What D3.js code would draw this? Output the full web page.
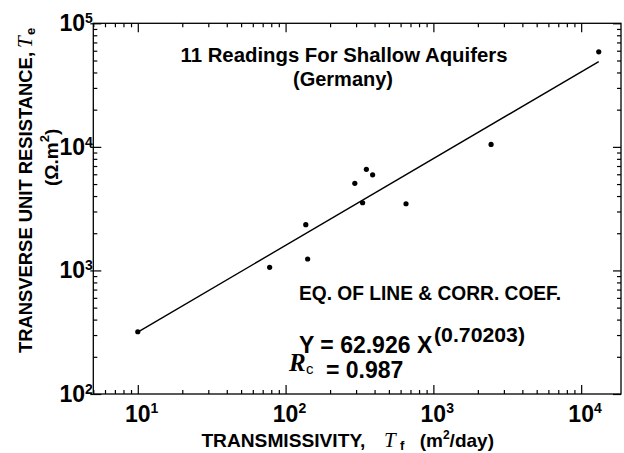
<!DOCTYPE html>
<html>
<head>
<meta charset="utf-8">
<script src="https://cdn.jsdelivr.net/npm/d3@7"></script>
<style>
  body { margin: 0; background: #fff; }
  svg { display: block; }
</style>
</head>
<body>
<svg id="chart" width="624" height="453"></svg>
<script>
// Readings
const transmissivity = [10, 78, 137, 141, 294, 332, 352, 388, 653, 2457, 13150]
const resistance = [319, 1060, 2344, 1237, 5070, 3530, 6580, 5943, 3465, 10470, 58800]
// Fitted power law Y = a X^b
const fitA = 62.926
const fitB = 0.70203
const xTickExps = [1, 2, 3, 4]
const yTickExps = [2, 3, 4, 5]

const sans = "'Liberation Sans', Arial, sans-serif"
const serif = "'Liberation Serif', 'Times New Roman', serif"
const plot = { left: 93.3, right: 621, top: 23.3, bottom: 394 }

const svg = d3.select("#chart")

const x = d3.scaleLog().domain([5, 18600]).range([plot.left, plot.right])
const y = d3.scaleLog().domain([100, 1e5]).range([plot.bottom, plot.top])

const isMajor = v => Math.abs(Math.log10(v) - Math.round(Math.log10(v))) < 1e-9
const xAll = x.ticks().filter(v => v >= 5 && v <= 18600)
const yAll = y.ticks()
const xMajor = xAll.filter(isMajor), xMinor = xAll.filter(v => !isMajor(v))
const yMajor = yAll.filter(isMajor), yMinor = yAll.filter(v => !isMajor(v))

// ticks all point into the plot
function ticks(axisFn, scale, values, size, transform) {
  svg.append("g")
    .attr("transform", transform)
    .call(axisFn(scale).tickValues(values).tickSize(size).tickFormat(""))
    .call(g => g.select(".domain").remove())
    .call(g => g.selectAll("line").attr("stroke", "#000").attr("stroke-width", 1.2))
}
ticks(d3.axisBottom, x, xMajor, -9, `translate(0,${plot.bottom})`)
ticks(d3.axisBottom, x, xMinor, -4, `translate(0,${plot.bottom})`)
ticks(d3.axisTop, x, xMajor, -9, `translate(0,${plot.top})`)
ticks(d3.axisTop, x, xMinor, -4, `translate(0,${plot.top})`)
ticks(d3.axisLeft, y, yMajor, -8, `translate(${plot.left},0)`)
ticks(d3.axisLeft, y, yMajor, 3, `translate(${plot.left},0)`)
ticks(d3.axisLeft, y, yMinor, -4, `translate(${plot.left},0)`)
ticks(d3.axisRight, y, yMajor, -8, `translate(${plot.right},0)`)
ticks(d3.axisRight, y, yMinor, -4, `translate(${plot.right},0)`)

// frame
svg.append("rect")
  .attr("x", plot.left).attr("y", plot.top)
  .attr("width", plot.right - plot.left).attr("height", plot.bottom - plot.top)
  .attr("fill", "none").attr("stroke", "#000").attr("stroke-width", 1.3)

// tick labels
yTickExps.forEach(e => {
  const t = svg.append("text")
    .attr("x", plot.left - 0.5).attr("y", y(10 ** e) + 8)
    .attr("text-anchor", "end")
    .attr("font-family", sans).attr("font-weight", "bold").attr("font-size", 23)
  t.append("tspan").text("10")
  t.append("tspan").attr("dy", -8).attr("font-size", 14).text(e)
})
xTickExps.forEach(e => {
  const cx = x(10 ** e)
  svg.append("text")
    .attr("x", cx).attr("y", 421.5).attr("text-anchor", "middle")
    .attr("font-family", sans).attr("font-weight", "bold").attr("font-size", 23).text("10")
  svg.append("text")
    .attr("x", cx + 12.8).attr("y", 413)
    .attr("font-family", sans).attr("font-weight", "bold").attr("font-size", 14).text(e)
})

// fitted line
const xExt = d3.extent(transmissivity)
svg.append("path")
  .datum(xExt)
  .attr("d", d3.line().x(d => x(d)).y(d => y(fitA * Math.pow(d, fitB))))
  .attr("fill", "none").attr("stroke", "#000").attr("stroke-width", 1.4)

// points
svg.append("g")
  .selectAll("circle")
  .data(transmissivity.map((t, i) => [t, resistance[i]]))
  .join("circle")
  .attr("cx", d => x(d[0])).attr("cy", d => y(d[1]))
  .attr("r", 2.6).attr("fill", "#000")

// annotations
svg.append("text")
  .attr("x", 344).attr("y", 62).attr("text-anchor", "middle")
  .attr("font-family", sans).attr("font-weight", "bold").attr("font-size", 20)
  .attr("textLength", 327).attr("lengthAdjust", "spacingAndGlyphs")
  .text("11 Readings For Shallow Aquifers")
svg.append("text")
  .attr("x", 343).attr("y", 86).attr("text-anchor", "middle")
  .attr("font-family", sans).attr("font-weight", "bold").attr("font-size", 20)
  .text("(Germany)")
svg.append("text")
  .attr("x", 299).attr("y", 300)
  .attr("font-family", sans).attr("font-weight", "bold").attr("font-size", 20)
  .attr("textLength", 262).attr("lengthAdjust", "spacingAndGlyphs")
  .text("EQ. OF LINE & CORR. COEF.")

svg.append("text")
  .attr("x", 299).attr("y", 353)
  .attr("font-family", sans).attr("font-weight", "bold").attr("font-size", 23)
  .text(`Y = ${fitA} X`)
svg.append("text")
  .attr("x", 434).attr("y", 341.5)
  .attr("font-family", sans).attr("font-weight", "bold").attr("font-size", 21)
  .attr("textLength", 91).attr("lengthAdjust", "spacingAndGlyphs")
  .text(`(${fitB})`)

svg.append("text")
  .attr("x", 289).attr("y", 371)
  .attr("font-family", serif).attr("font-style", "italic").attr("font-weight", "bold")
  .attr("font-size", 25).text("R")
svg.append("text")
  .attr("x", 306).attr("y", 374)
  .attr("font-family", sans).attr("font-size", 15).text("c")
svg.append("text")
  .attr("x", 326).attr("y", 378)
  .attr("font-family", sans).attr("font-weight", "bold").attr("font-size", 23)
  .text("= 0.987")

// x axis title
svg.append("text")
  .attr("x", 201.4).attr("y", 447)
  .attr("font-family", sans).attr("font-weight", "bold").attr("font-size", 19)
  .attr("textLength", 164).attr("lengthAdjust", "spacingAndGlyphs")
  .text("TRANSMISSIVITY,")
svg.append("text")
  .attr("x", 384).attr("y", 447)
  .attr("font-family", serif).attr("font-style", "italic").attr("font-size", 21)
  .text("T")
svg.append("text")
  .attr("x", 400).attr("y", 450)
  .attr("font-family", sans).attr("font-weight", "bold").attr("font-size", 13)
  .text("f")
const xUnit = svg.append("text")
  .attr("x", 419.7).attr("y", 447)
  .attr("font-family", sans).attr("font-weight", "bold").attr("font-size", 19)
xUnit.append("tspan").text("(m")
xUnit.append("tspan").attr("dy", -8).attr("font-size", 12).text("2")
xUnit.append("tspan").attr("dy", 8).text("/day)")

// y axis title
const yTitle = svg.append("g").attr("transform", "translate(32,353) rotate(-90)")
yTitle.append("text")
  .attr("x", 0).attr("y", 0)
  .attr("font-family", sans).attr("font-weight", "bold").attr("font-size", 19)
  .attr("textLength", 301).attr("lengthAdjust", "spacingAndGlyphs")
  .text("TRANSVERSE UNIT RESISTANCE,")
yTitle.append("text")
  .attr("x", 305).attr("y", 0)
  .attr("font-family", serif).attr("font-style", "italic").attr("font-size", 21)
  .text("T")
yTitle.append("text")
  .attr("x", 318).attr("y", 3)
  .attr("font-family", sans).attr("font-weight", "bold").attr("font-size", 13)
  .text("e")

const yUnit = svg.append("g").attr("transform", "translate(58,186) rotate(-90)")
  .append("text")
  .attr("font-family", sans).attr("font-weight", "bold").attr("font-size", 19)
yUnit.append("tspan").text("(Ω.m")
yUnit.append("tspan").attr("dy", -9).attr("font-size", 13).text("2")
yUnit.append("tspan").attr("dy", 9).text(")")
</script>
</body>
</html>
